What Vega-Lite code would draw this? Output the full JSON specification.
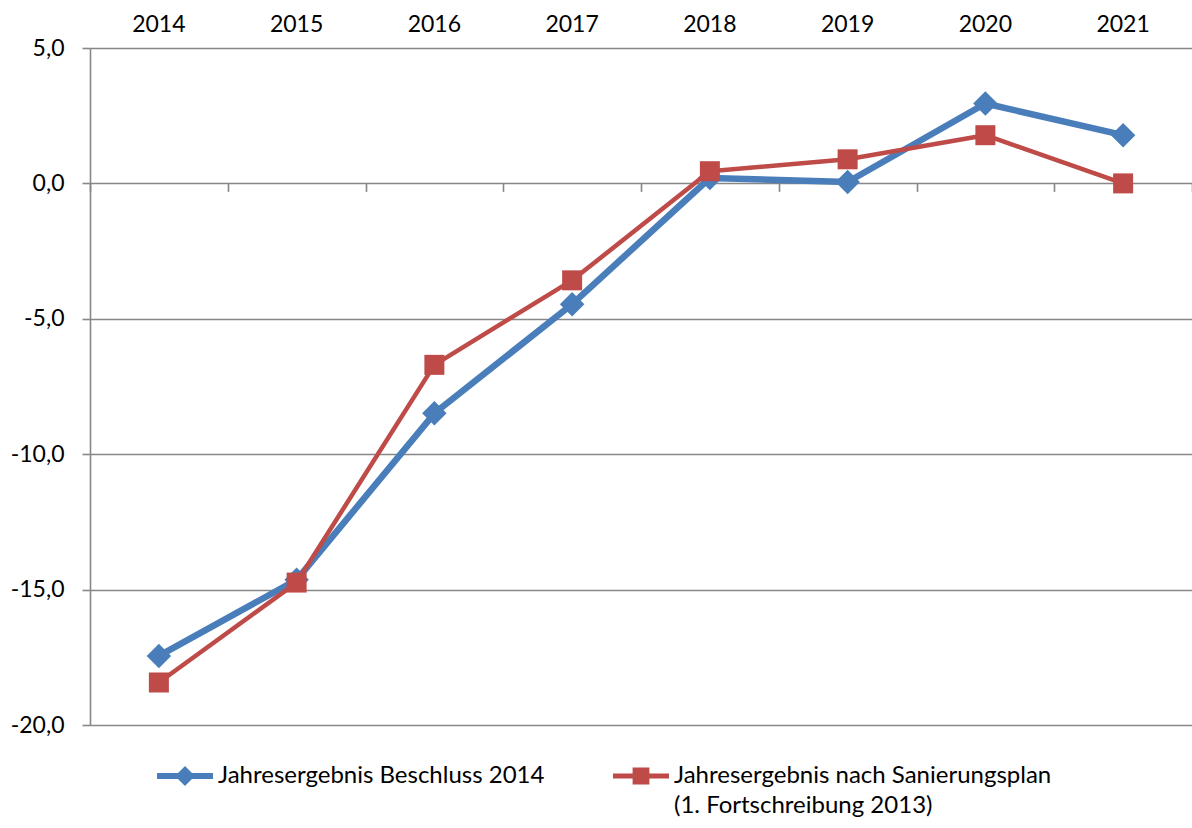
{
  "$schema": "https://vega.github.io/schema/vega-lite/v6.json",
  "width": 1102,
  "height": 677,
  "autosize": {"type": "none"},
  "padding": {"left": 90, "top": 48, "right": 0, "bottom": 103},
  "background": "white",
  "config": {
    "view": {"stroke": null},
    "font": "Lato",
    "axis": {"labelFont": "Lato", "labelColor": "#000000", "labelFontSize": 23, "titleFont": "Lato"},
    "legend": {"labelFont": "Lato", "labelColor": "#000000", "labelFontSize": 24}
  },
  "data": {
    "values": [
      {"Reihe": "Jahresergebnis Beschluss 2014", "Jahr": "2014", "Wert": -17.45},
      {"Reihe": "Jahresergebnis Beschluss 2014", "Jahr": "2015", "Wert": -14.64},
      {"Reihe": "Jahresergebnis Beschluss 2014", "Jahr": "2016", "Wert": -8.49},
      {"Reihe": "Jahresergebnis Beschluss 2014", "Jahr": "2017", "Wert": -4.46},
      {"Reihe": "Jahresergebnis Beschluss 2014", "Jahr": "2018", "Wert": 0.2},
      {"Reihe": "Jahresergebnis Beschluss 2014", "Jahr": "2019", "Wert": 0.05},
      {"Reihe": "Jahresergebnis Beschluss 2014", "Jahr": "2020", "Wert": 2.95},
      {"Reihe": "Jahresergebnis Beschluss 2014", "Jahr": "2021", "Wert": 1.78},
      {"Reihe": "Jahresergebnis nach Sanierungsplan", "Jahr": "2014", "Wert": -18.43},
      {"Reihe": "Jahresergebnis nach Sanierungsplan", "Jahr": "2015", "Wert": -14.74},
      {"Reihe": "Jahresergebnis nach Sanierungsplan", "Jahr": "2016", "Wert": -6.7},
      {"Reihe": "Jahresergebnis nach Sanierungsplan", "Jahr": "2017", "Wert": -3.58},
      {"Reihe": "Jahresergebnis nach Sanierungsplan", "Jahr": "2018", "Wert": 0.45},
      {"Reihe": "Jahresergebnis nach Sanierungsplan", "Jahr": "2019", "Wert": 0.89},
      {"Reihe": "Jahresergebnis nach Sanierungsplan", "Jahr": "2020", "Wert": 1.78},
      {"Reihe": "Jahresergebnis nach Sanierungsplan", "Jahr": "2021", "Wert": 0.0}
    ]
  },
  "encoding": {
    "y": {
      "field": "Wert",
      "type": "quantitative",
      "title": null,
      "scale": {"domain": [-20, 5], "nice": false, "zero": false},
      "axis": {
        "values": [-20, -15, -10, -5, 0, 5],
        "grid": true,
        "gridColor": "#878787",
        "gridWidth": 1.6,
        "domain": true,
        "domainColor": "#878787",
        "domainWidth": 1.6,
        "ticks": true,
        "tickColor": "#878787",
        "tickWidth": 1.6,
        "tickSize": 8,
        "labelPadding": 18,
        "labelExpr": "(datum.value < 0 ? '-' : '') + replace(format(abs(datum.value), '.1f'), '.', ',')"
      }
    },
    "color": {
      "field": "Reihe",
      "type": "nominal",
      "scale": {
        "domain": ["Jahresergebnis Beschluss 2014", "Jahresergebnis nach Sanierungsplan"],
        "range": ["#4A7EBB", "#BE4B48"]
      },
      "legend": {
        "title": null,
        "orient": "none",
        "legendX": 67,
        "legendY": 700,
        "direction": "horizontal",
        "padding": 0,
        "symbolSize": 3136,
        "labelOffset": 5,
        "labelLimit": 600,
        "columnPadding": 68,
        "labelExpr": "datum.value === 'Jahresergebnis Beschluss 2014' ? [datum.label, ' '] : ['Jahresergebnis nach Sanierungsplan', '(1. Fortschreibung 2013)']",
        "encode": {
          "symbols": {
            "update": {
              "shape": {"signal": "datum.value === 'Jahresergebnis Beschluss 2014' ? 'M-1,-0.107L1,-0.107L1,0.107L-1,0.107Z M0,-0.357L0.357,0L0,0.357L-0.357,0Z' : 'M-1,-0.09L1,-0.09L1,0.09L-1,0.09Z M-0.3,-0.3L0.3,-0.3L0.3,0.3L-0.3,0.3Z'"},
              "fill": {"scale": "color", "field": "value"},
              "fillOpacity": {"value": 1},
              "stroke": {"value": "transparent"},
              "strokeWidth": {"value": 0},
              "size": {"value": 3136},
              "opacity": {"value": 1}
            }
          },
          "labels": {
            "update": {
              "lineHeight": {"value": 30}
            }
          }
        }
      }
    }
  },
  "layer": [
    {
      "transform": [{"filter": "datum.Reihe === 'Jahresergebnis Beschluss 2014'"}],
      "mark": {"type": "line", "strokeJoin": "round", "strokeWidth": 6.5},
      "encoding": {
        "x": {
          "field": "Jahr",
          "type": "ordinal",
          "title": null,
          "scale": {"paddingInner": 0, "paddingOuter": 0},
          "axis": {
            "orient": "top",
            "domain": false,
            "ticks": false,
            "tickSize": 0,
            "grid": false,
            "labelAngle": 0,
            "labelBaseline": "alphabetic",
            "labelPadding": 17
          }
        }
      }
    },
    {
      "transform": [{"filter": "datum.Reihe === 'Jahresergebnis Beschluss 2014'"}],
      "mark": {"type": "point", "shape": "diamond", "size": 600, "filled": true, "opacity": 1, "strokeWidth": 0},
      "encoding": {
        "x": {
          "field": "Jahr",
          "type": "ordinal",
          "title": null,
          "axis": {
            "orient": "bottom",
            "offset": -541.6,
            "domain": false,
            "labels": false,
            "grid": false,
            "ticks": true,
            "tickBand": "extent",
            "tickColor": "#878787",
            "tickWidth": 1.6,
            "tickSize": 8
          }
        }
      }
    },
    {
      "transform": [{"filter": "datum.Reihe === 'Jahresergebnis nach Sanierungsplan'"}],
      "mark": {"type": "line", "strokeJoin": "round", "strokeWidth": 4.5},
      "encoding": {
        "x": {"field": "Jahr", "type": "ordinal", "title": null, "axis": null}
      }
    },
    {
      "transform": [{"filter": "datum.Reihe === 'Jahresergebnis nach Sanierungsplan'"}],
      "mark": {"type": "point", "shape": "square", "size": 400, "filled": true, "opacity": 1, "strokeWidth": 0},
      "encoding": {
        "x": {"field": "Jahr", "type": "ordinal", "title": null, "axis": null}
      }
    }
  ],
  "resolve": {"axis": {"x": "independent"}}
}
